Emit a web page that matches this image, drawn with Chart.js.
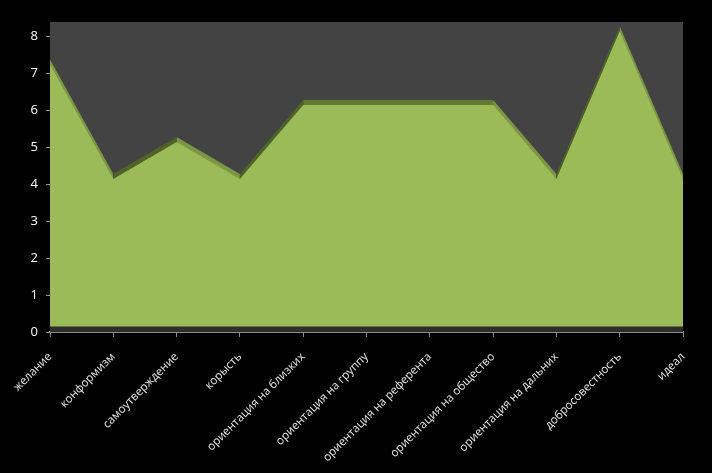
<!DOCTYPE html>
<html>
<head>
<meta charset="utf-8">
<script src="https://cdn.jsdelivr.net/npm/chart.js@4/dist/chart.umd.min.js"></script>
<style>
  html, body { margin: 0; padding: 0; background: #000; }
  #wrap { width: 712px; height: 473px; }
</style>
</head>
<body>
<div id="wrap"><canvas id="areaChart"></canvas></div>
<script>
// categories along the x axis
const categories = [
    "желание", "конформизм", "самоутверждение", "корысть",
    "ориентация на близких", "ориентация на группу", "ориентация на референта",
    "ориентация на общество", "ориентация на дальних", "добросовестность", "идеал"
];
// series values
const scores = [7.1, 4, 5, 4, 6, 6, 6, 6, 4, 8, 4];
// y tick labels
const yTicks = [0, 1, 2, 3, 4, 5, 6, 7, 8];

const Y_MAX = 8.4;
const PX_PER_UNIT = 310 / Y_MAX;   // plot height / range
// pseudo 3D depth: hidden axes shifted by a few pixels
const frontShift = 5.5 / PX_PER_UNIT;
const backShift = 10.5 / PX_PER_UNIT;

// grey back wall and dark floor strip
const plotBackground = {
    id: "plotBackground",
    beforeDatasetsDraw(chart) {
        const a = chart.chartArea;
        const ctx = chart.ctx;
        ctx.save();
        ctx.fillStyle = "#434343";
        ctx.fillRect(a.left, a.top, a.right - a.left, a.bottom - a.top);
        ctx.fillStyle = "#2e2e2e";
        ctx.fillRect(a.left, a.bottom - 6, a.right - a.left, 6);
        ctx.restore();
    }
};

// top face shading: rising slopes dark, falling slopes lit
function topShade(ctx) {
    const d = ctx.p1.parsed.y - ctx.p0.parsed.y;
    if (d > 0) return "#4f6228";
    if (d < 0) return "#7b9746";
    return "#5f7a31";
}

new Chart(document.getElementById("areaChart").getContext("2d"), {
    type: "line",
    data: {
        labels: categories,
        datasets: [
            {
                label: "front",
                data: scores,
                yAxisID: "yFront",
                fill: "origin",
                backgroundColor: "#9bbb59",
                borderWidth: 0,
                pointRadius: 0,
                tension: 0
            },
            {
                label: "top",
                data: scores,
                yAxisID: "yBack",
                fill: "origin",
                backgroundColor: "#5f7a31",
                segment: { backgroundColor: topShade },
                borderWidth: 0,
                pointRadius: 0,
                tension: 0
            }
        ]
    },
    options: {
        responsive: true,
        maintainAspectRatio: false,
        animation: false,
        layout: { padding: { top: 22, right: 29, left: 0, bottom: 0 } },
        plugins: {
            legend: { display: false },
            tooltip: { enabled: false }
        },
        scales: {
            x: {
                offset: false,
                afterFit: scale => { scale.height = 141; },
                border: { color: "#8a8a8a", width: 2 },
                grid: { drawOnChartArea: false, color: "#8a8a8a", tickLength: 5 },
                ticks: {
                    color: "#e8e8e8",
                    font: { family: "Open Sans", size: 11.5 },
                    minRotation: 45,
                    maxRotation: 45,
                    padding: 13,
                    autoSkip: false
                }
            },
            y: {
                min: 0,
                max: Y_MAX,
                afterFit: scale => { scale.width = 50; },
                afterBuildTicks: axis => {
                    axis.ticks = yTicks.map(v => ({ value: v }));
                },
                border: { color: "#8a8a8a", width: 1 },
                grid: { drawOnChartArea: false, color: "#8a8a8a", tickLength: 4 },
                ticks: {
                    color: "#ffffff",
                    font: { family: "Open Sans", size: 13 },
                    padding: 8
                }
            },
            yFront: {
                display: false,
                min: -frontShift,
                max: Y_MAX - frontShift
            },
            yBack: {
                display: false,
                min: -backShift,
                max: Y_MAX - backShift
            }
        }
    },
    plugins: [plotBackground]
});
</script>
</body>
</html>
